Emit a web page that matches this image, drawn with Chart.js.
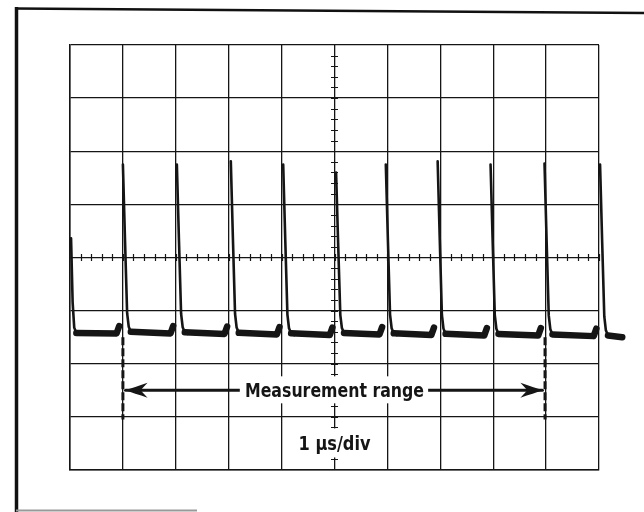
<!DOCTYPE html>
<html>
<head>
<meta charset="utf-8">
<script src="https://cdn.jsdelivr.net/npm/chart.js@4.4.1/dist/chart.umd.min.js"></script>
<style>
  html, body { margin: 0; padding: 0; background: #fff; }
  canvas { display: block; }
</style>
</head>
<body>
<canvas id="scope" width="644" height="512"></canvas>
<script>
// graticule (divisions)
var xRange = [0, 10];
var yRange = [-4, 4];
var minorStep = 0.2;

// leading edge of each pulse (div) and its peak level (div)
var pulseTimes = [1.00, 2.02, 3.04, 4.03, 5.03, 5.97, 6.95, 7.95, 8.97, 10.02];
var pulseTops  = [1.75, 1.75, 1.81, 1.75, 1.60, 1.75, 1.81, 1.75, 1.77, 1.75];
// baseline level before the first pulse and after each pulse
var baseLevels = [-1.43, -1.43, -1.44, -1.45, -1.46, -1.45, -1.46, -1.47, -1.47, -1.48, -1.50];

// tail of the pulse that was cut at the left edge
var leadTimes  = [0.02, 0.05, 0.08, 0.12];
var leadValues = [0.36, -0.85, -1.32, -1.42];

// decay of a pulse: time after edge, part of the height left
var fallDt   = [0, 0.04, 0.08, 0.11, 0.15, 0.21];
var fallFrac = [1, 0.55, 0.12, 0.04, 0.01, 0];
// small lift of the baseline just before the next edge
var riseDt   = [-0.12, -0.07];
var riseLift = [0, 0.14];
var traceEnd = 10.44;

// measurement range marks
var measureAt = [1.00, 8.98];
var measureSpan = [-1.50, -3.05];
var arrowLevel = -2.5;
var arrowLeft = [1.05, 3.21];
var arrowRight = [6.77, 8.93];
var rangeLabel = 'Measurement range';
var sweepLabel = '1 \u00b5s/div';
var sweepLevel = -3.5;

var ink = '#151515';

function spikePoints() {
	var pts = [];
	for (var i = 0; i < leadTimes.length; i++) {
		pts.push({x: leadTimes[i], y: leadValues[i]});
	}
	pts.push({x: leadTimes[leadTimes.length - 1] + 0.01, y: null});
	for (var k = 0; k < pulseTimes.length; k++) {
		var base = baseLevels[k + 1];
		var amp = pulseTops[k] - base;
		for (var j = 0; j < fallDt.length; j++) {
			pts.push({x: pulseTimes[k] + fallDt[j], y: base + fallFrac[j] * amp});
		}
		pts.push({x: pulseTimes[k] + 0.25, y: null});
	}
	return pts;
}

function basePoints() {
	var pts = [];
	var starts = [leadTimes[leadTimes.length - 1]];
	var startY = [leadValues[leadValues.length - 1]];
	for (var k = 0; k < pulseTimes.length; k++) {
		var amp = pulseTops[k] - baseLevels[k + 1];
		starts.push(pulseTimes[k] + fallDt[4]);
		startY.push(baseLevels[k + 1] + fallFrac[4] * amp);
	}
	for (var s = 0; s < starts.length; s++) {
		var base = baseLevels[s];
		pts.push({x: starts[s], y: startY[s]});
		if (s < pulseTimes.length) {
			var next = pulseTimes[s];
			for (var r = 0; r < riseDt.length; r++) {
				pts.push({x: next + riseDt[r], y: base + riseLift[r]});
			}
			pts.push({x: next, y: null});
		} else {
			pts.push({x: traceEnd, y: base});
		}
	}
	return pts;
}

function lineSet(points, width, dash) {
	return {
		data: points,
		borderColor: ink,
		borderWidth: width,
		borderDash: dash || [],
		borderCapStyle: dash ? 'butt' : 'round',
		borderJoinStyle: 'round',
		pointRadius: 0,
		tension: 0,
		spanGaps: false,
		clip: false
	};
}

var textFont = '"Liberation Sans Narrow", "DejaVu Sans Condensed", sans-serif';

function fitText(ctx, text, x, y, width) {
	var w = ctx.measureText(text).width;
	ctx.save();
	ctx.translate(x, y);
	ctx.scale(width / w, 1);
	ctx.fillText(text, 0, 0);
	ctx.restore();
}

var scopeDecor = {
	id: 'scopeDecor',
	beforeDraw: function (chart) {
		var ctx = chart.ctx;
		ctx.save();
		ctx.fillStyle = '#fff';
		ctx.fillRect(0, 0, chart.width, chart.height);
		// photo frame
		ctx.strokeStyle = '#111';
		ctx.lineWidth = 3.5;
		ctx.beginPath();
		ctx.moveTo(16.5, 7);
		ctx.lineTo(16.5, 512);
		ctx.stroke();
		ctx.lineWidth = 2.5;
		ctx.beginPath();
		ctx.moveTo(15, 8.5);
		ctx.lineTo(644, 13);
		ctx.stroke();
		ctx.strokeStyle = '#999';
		ctx.lineWidth = 2;
		ctx.beginPath();
		ctx.moveTo(16, 510.5);
		ctx.lineTo(197, 510.5);
		ctx.stroke();
		ctx.restore();
	},
	beforeDatasetsDraw: function (chart) {
		var ctx = chart.ctx;
		var xs = chart.scales.x, ys = chart.scales.y;
		var cx = xs.getPixelForValue((xRange[0] + xRange[1]) / 2);
		var cy = ys.getPixelForValue((yRange[0] + yRange[1]) / 2);
		ctx.save();
		ctx.strokeStyle = ink;
		ctx.lineWidth = 1.2;
		ctx.beginPath();
		for (var v = xRange[0] + minorStep; v < xRange[1]; v += minorStep) {
			var px = Math.round(xs.getPixelForValue(v)) + 0.5;
			ctx.moveTo(px, cy - 3.5);
			ctx.lineTo(px, cy + 3.5);
		}
		for (var w = yRange[0] + minorStep; w < yRange[1]; w += minorStep) {
			var py = Math.round(ys.getPixelForValue(w)) + 0.5;
			ctx.moveTo(cx - 3.5, py);
			ctx.lineTo(cx + 3.5, py);
		}
		ctx.stroke();
		ctx.restore();
	},
	afterDatasetsDraw: function (chart) {
		var ctx = chart.ctx;
		var xs = chart.scales.x, ys = chart.scales.y;
		var mid = xs.getPixelForValue((xRange[0] + xRange[1]) / 2);
		var ay = ys.getPixelForValue(arrowLevel);
		var sy = ys.getPixelForValue(sweepLevel);
		var l = xs.getPixelForValue(arrowLeft[1]);
		var r = xs.getPixelForValue(arrowRight[0]);
		ctx.save();
		ctx.fillStyle = '#fff';
		ctx.fillRect(l, ay - 14, r - l, 27);
		ctx.fillRect(mid - 38, sy - 15, 76, 29);
		ctx.fillStyle = ink;
		ctx.textAlign = 'center';
		ctx.textBaseline = 'middle';
		ctx.font = 'bold 20px ' + textFont;
		fitText(ctx, rangeLabel, mid, ay + 1, 179);
		fitText(ctx, sweepLabel, mid, sy + 1, 72);
		// arrow heads
		arrowHead(ctx, xs.getPixelForValue(arrowLeft[0]) - 1, ay, -1);
		arrowHead(ctx, xs.getPixelForValue(arrowRight[1]) + 1, ay, 1);
		ctx.restore();
	}
};

function arrowHead(ctx, x, y, dir) {
	ctx.beginPath();
	ctx.moveTo(x, y);
	ctx.quadraticCurveTo(x - dir * 10, y - 3, x - dir * 23, y - 7.5);
	ctx.lineTo(x - dir * 16, y);
	ctx.lineTo(x - dir * 23, y + 7.5);
	ctx.quadraticCurveTo(x - dir * 10, y + 3, x, y);
	ctx.closePath();
	ctx.fill();
}

var gridStyle = {
	color: ink,
	lineWidth: 1.3,
	drawTicks: false
};

var ctx = document.getElementById('scope');
var scope = new Chart(ctx, {
	type: 'line',
	data: {
		datasets: [
			lineSet(basePoints(), 6.5),
			lineSet(spikePoints(), 2.6),
			lineSet([{x: measureAt[0], y: measureSpan[0]}, {x: measureAt[0], y: measureSpan[1]}], 3, [8, 3]),
			lineSet([{x: measureAt[1], y: measureSpan[0]}, {x: measureAt[1], y: measureSpan[1]}], 3, [8, 3]),
			lineSet([{x: arrowLeft[0], y: arrowLevel}, {x: arrowLeft[1], y: arrowLevel}], 3),
			lineSet([{x: arrowRight[0], y: arrowLevel}, {x: arrowRight[1], y: arrowLevel}], 3)
		]
	},
	options: {
		responsive: false,
		animation: false,
		events: [],
		layout: {padding: {left: 70, right: 45, top: 45, bottom: 42}},
		plugins: {legend: {display: false}, tooltip: {enabled: false}},
		scales: {
			x: {
				type: 'linear',
				// set after the data limits so the trace may run past the right edge
				afterDataLimits: function (s) { s.min = xRange[0]; s.max = xRange[1]; },
				ticks: {display: false, stepSize: 1},
				grid: gridStyle,
				border: {display: true, color: ink, width: 1.5}
			},
			y: {
				type: 'linear', min: yRange[0], max: yRange[1],
				ticks: {display: false, stepSize: 1},
				grid: gridStyle,
				border: {display: true, color: ink, width: 1.5}
			}
		}
	},
	plugins: [scopeDecor]
});
</script>
</body>
</html>
